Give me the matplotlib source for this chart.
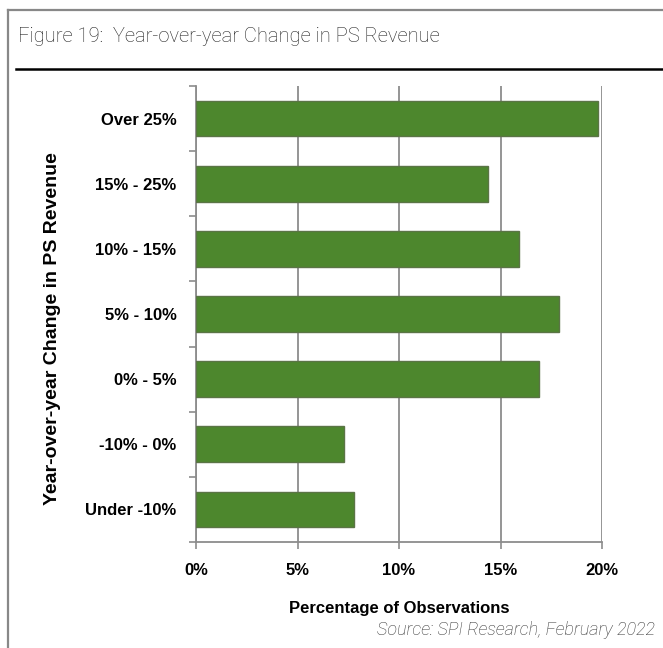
import matplotlib
matplotlib.use("Agg")
import matplotlib.pyplot as plt
from matplotlib.lines import Line2D

# Share of observations (%) by year-over-year change in PS revenue
categories = ["Under -10%", "-10% - 0%", "0% - 5%", "5% - 10%",
              "10% - 15%", "15% - 25%", "Over 25%"]
values = [7.8, 7.3, 16.9, 17.9, 15.9, 14.4, 19.8]
x_ticks = [0, 5, 10, 15, 20]
x_tick_labels = ["0%", "5%", "10%", "15%", "20%"]

title = "Figure 19:  Year-over-year Change in PS Revenue"
source = "Source: SPI Research, February 2022"

W, H = 663, 648
fig = plt.figure(figsize=(W / 100, H / 100), dpi=100)
fig.patch.set_facecolor("white")

grid_gray = "#8c8c8c"
bar_green = "#4d872d"
bar_edge = "#5b7446"

ax = fig.add_axes([196 / W, (H - 542) / H, (602 - 196) / W, (542 - 86) / H])
ypos = list(range(len(categories)))
ax.barh(ypos, values, height=0.55, color=bar_green, edgecolor=bar_edge,
        linewidth=1.0, zorder=3)

ax.set_xlim(0, 20)
ax.set_ylim(-0.5, len(categories) - 0.5)

ax.set_xticks(x_ticks)
ax.set_xticklabels(x_tick_labels, fontsize=12, fontweight="bold",
                   family="Liberation Sans")
ax.set_yticks(ypos)
ax.set_yticklabels(categories, fontsize=12, fontweight="bold",
                   family="Liberation Sans")
ax.tick_params(axis="y", which="major", length=0, pad=14)
ax.set_yticks([i - 0.5 for i in range(len(categories) + 1)], minor=True)
ax.tick_params(axis="y", which="minor", length=5, width=1.2, color=grid_gray)
ax.tick_params(axis="x", length=5, width=1.2, color=grid_gray, pad=10)

ax.grid(axis="x", color=grid_gray, linewidth=1.3, zorder=0)
for side in ["top", "right"]:
    ax.spines[side].set_visible(False)
for side in ["left", "bottom"]:
    ax.spines[side].set_color(grid_gray)
    ax.spines[side].set_linewidth(1.3)

ax.set_xlabel("Percentage of Observations", fontsize=12, fontweight="bold",
              family="Liberation Sans", labelpad=17)
ax.set_ylabel("Year-over-year Change in PS Revenue", fontsize=14,
              fontweight="bold", family="Liberation Sans", va="center")
ax.yaxis.set_label_coords(-143 / 406, 0.469)

# Outer frame and title rule
fig.add_artist(Line2D([8 / W, 8 / W], [0, (H - 10) / H], color="#888888",
                      linewidth=1.6, transform=fig.transFigure))
fig.add_artist(Line2D([8 / W, 1], [(H - 10) / H, (H - 10) / H], color="#888888",
                      linewidth=1.6, transform=fig.transFigure))
fig.add_artist(Line2D([16 / W, 1], [(H - 69) / H, (H - 69) / H], color="black",
                      linewidth=1.8, transform=fig.transFigure))

fig.text(18 / W, (H - 36) / H, title, fontsize=14.5, fontweight="light",
         family="Roboto", va="center", ha="left", color="#222222")
fig.text(655 / W, (H - 630) / H, source, fontsize=13, fontweight="light",
         style="italic", family="Roboto", va="center", ha="right",
         color="#333333")

fig.savefig("out.png", dpi=100)
